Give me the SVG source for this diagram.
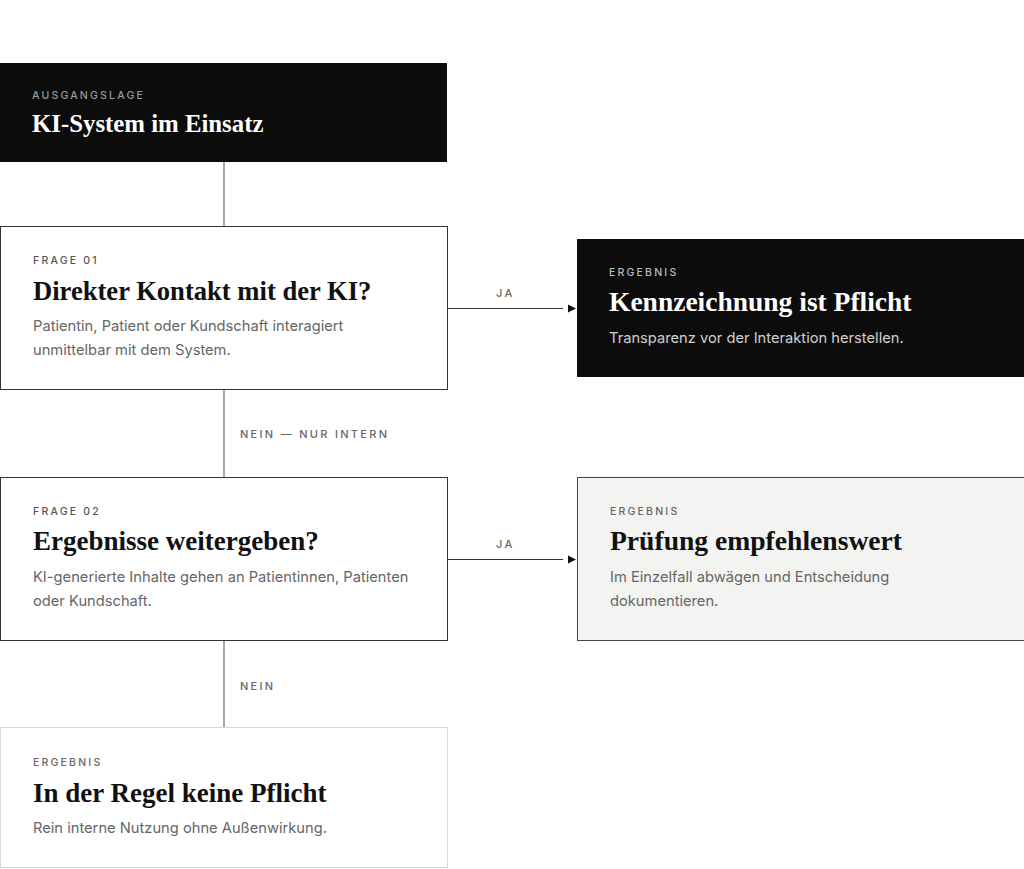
<svg xmlns="http://www.w3.org/2000/svg" width="1024" height="869" viewBox="0 0 1024 869">
<defs>
<style>
.eyebrow{font-family:Inter,"Liberation Sans",sans-serif;font-size:10.5px;letter-spacing:2.2px;font-weight:500}
.title{font-family:"Liberation Serif","DejaVu Serif",serif;font-weight:700;font-size:27px}
.desc{font-family:Inter,"Liberation Sans",sans-serif;font-size:14.7px;fill:#666}
.elabel{font-family:Inter,"Liberation Sans",sans-serif;font-size:11px;letter-spacing:2.3px;fill:#666;font-weight:500}
.conn{stroke:#777;stroke-width:1.3;fill:none}
.hconn{stroke:#333;stroke-width:1.2;fill:none}
</style>
</defs>
<rect width="1024" height="869" fill="#ffffff"/>
<g id="connectors">
<line class="conn" x1="224" y1="162" x2="224" y2="226"/>
<line class="conn" x1="224" y1="390" x2="224" y2="477"/>
<line class="conn" x1="224" y1="641" x2="224" y2="727"/>
<line class="hconn" x1="447" y1="308.5" x2="563" y2="308.5"/>
<path d="M568,304.5 L576,308.5 L568,312.5 z" fill="#111"/>
<line class="hconn" x1="447" y1="559.5" x2="563" y2="559.5"/>
<path d="M568,555.5 L576,559.5 L568,563.5 z" fill="#111"/>
<text class="elabel" x="496" y="297">JA</text>
<text class="elabel" x="496" y="548">JA</text>
<text class="elabel" x="240" y="438">NEIN — NUR INTERN</text>
<text class="elabel" x="240" y="690">NEIN</text>
</g>
<g id="start">
<rect x="0" y="63" width="447" height="99" fill="#0c0c0c"/>
<text class="eyebrow" x="32" y="99" fill="#9a9a9a">AUSGANGSLAGE</text>
<text class="title" x="32" y="132" fill="#ffffff" style="font-size:24.8px">KI-System im Einsatz</text>
</g>
<g id="frage1">
<rect x="0.5" y="226.5" width="447" height="163" fill="#ffffff" stroke="#333" stroke-width="1"/>
<text class="eyebrow" x="33" y="264" fill="#555">FRAGE 01</text>
<text class="title" x="33" y="300" fill="#111" style="font-size:26.6px">Direkter Kontakt mit der KI?</text>
<text class="desc" x="33" y="331">Patientin, Patient oder Kundschaft interagiert</text>
<text class="desc" x="33" y="355">unmittelbar mit dem System.</text>
</g>
<g id="pflicht">
<rect x="577" y="239" width="447" height="138" fill="#0c0c0c"/>
<text class="eyebrow" x="609" y="276" fill="#bbb">ERGEBNIS</text>
<text class="title" x="609" y="311" fill="#ffffff" style="font-size:27.5px">Kennzeichnung ist Pflicht</text>
<text class="desc" x="609" y="343" style="fill:#d0d0d0">Transparenz vor der Interaktion herstellen.</text>
</g>
<g id="frage2">
<rect x="0.5" y="477.5" width="447" height="163" fill="#ffffff" stroke="#333" stroke-width="1"/>
<text class="eyebrow" x="33" y="515" fill="#555">FRAGE 02</text>
<text class="title" x="33" y="550" fill="#111">Ergebnisse weitergeben?</text>
<text class="desc" x="33" y="582">KI-generierte Inhalte gehen an Patientinnen, Patienten</text>
<text class="desc" x="33" y="606">oder Kundschaft.</text>
</g>
<g id="pruefung">
<rect x="577.5" y="477.5" width="447" height="163" fill="#f3f3f1" stroke="#444" stroke-width="1"/>
<text class="eyebrow" x="610" y="515" fill="#666">ERGEBNIS</text>
<text class="title" x="610" y="550" fill="#111" style="font-size:27.6px">Prüfung empfehlenswert</text>
<text class="desc" x="610" y="582">Im Einzelfall abwägen und Entscheidung</text>
<text class="desc" x="610" y="606">dokumentieren.</text>
</g>
<g id="keine">
<rect x="0.5" y="727.5" width="447" height="140" fill="#ffffff" stroke="#d8d8d8" stroke-width="1"/>
<text class="eyebrow" x="33" y="766" fill="#666">ERGEBNIS</text>
<text class="title" x="33" y="802" fill="#111">In der Regel keine Pflicht</text>
<text class="desc" x="33" y="833">Rein interne Nutzung ohne Außenwirkung.</text>
</g>
</svg>
